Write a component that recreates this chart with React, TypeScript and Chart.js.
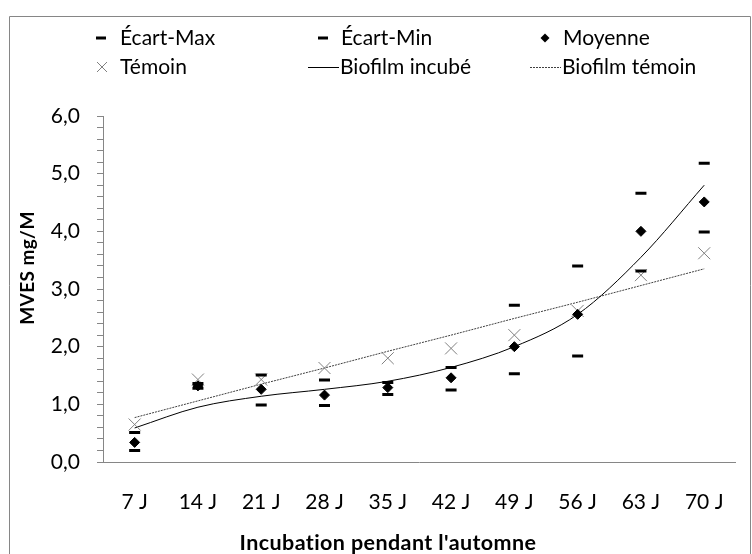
import React, { useEffect, useRef } from 'react';
import { Chart, registerables } from 'chart.js';

Chart.register(...registerables);

// ---- Data ----
const categories = ['7 J', '14 J', '21 J', '28 J', '35 J', '42 J', '49 J', '56 J', '63 J', '70 J'];
const ecartMax = [0.51, 1.36, 1.51, 1.42, 1.38, 1.64, 2.72, 3.40, 4.66, 5.18];
const ecartMin = [0.20, 1.28, 0.99, 0.98, 1.17, 1.25, 1.53, 1.84, 3.31, 3.99];
const moyenne = [0.34, 1.32, 1.26, 1.16, 1.29, 1.46, 2.00, 2.56, 4.00, 4.51];
const temoin = [0.65, 1.43, 1.43, 1.63, 1.80, 1.97, 2.20, 2.62, 3.24, 3.62];
const biofilmIncube = [0.59, 0.95, 1.14, 1.26, 1.40, 1.64, 2.00, 2.56, 3.55, 4.80];
const biofilmTemoin = [0.77, 1.06, 1.35, 1.63, 1.92, 2.20, 2.49, 2.77, 3.06, 3.35];
const yMin = 0;
const yMax = 6;
const yMinorStep = 0.2;

const xTitle = "Incubation pendant l'automne";
const yTitle = 'MVES mg/M';
const legendRow1 = ['Écart-Max', 'Écart-Min', 'Moyenne'];
const legendRow2 = ['Témoin', 'Biofilm incubé', 'Biofilm témoin'];

const FONT = 'Lato, "Noto Sans", sans-serif';
const AXIS_GRAY = '#868686';
const TEXT = '#000000';

const overlayPlugin = {
  id: 'overlay',
  afterDraw(chart: any) {
    const ctx: any = chart.ctx;
    ctx.save();

    // outer frame (chart was cropped at the bottom)
    ctx.strokeStyle = AXIS_GRAY;
    ctx.lineWidth = 1;
    ctx.beginPath();
    ctx.moveTo(9.5, 600);
    ctx.lineTo(9.5, 16.5);
    ctx.lineTo(750.5, 16.5);
    ctx.lineTo(750.5, 600);
    ctx.stroke();

    // legend: 3 columns, each with a 30px symbol area then text
    const r1 = 38;
    const r2 = 67;
    const cols = [86, 308, 530];
    const symW = 30;
    ctx.fillStyle = TEXT;
    ctx.font = `21px ${FONT}`;
    ctx.textBaseline = 'middle';
    ctx.textAlign = 'left';

    // Écart-Max
    let c = cols[0] + symW / 2;
    ctx.fillStyle = '#000';
    ctx.fillRect(c - 5, r1 - 1.5, 10, 3);
    ctx.fillText(legendRow1[0], cols[0] + symW + 4, r1);
    // Écart-Min
    c = cols[1] + symW / 2;
    ctx.fillRect(c - 5, r1 - 1.5, 10, 3);
    ctx.fillText(legendRow1[1], cols[1] + symW + 3, r1);
    // Moyenne
    c = cols[2] + symW / 2;
    ctx.beginPath();
    ctx.moveTo(c - 4.5, r1);
    ctx.lineTo(c, r1 - 4.5);
    ctx.lineTo(c + 4.5, r1);
    ctx.lineTo(c, r1 + 4.5);
    ctx.closePath();
    ctx.fill();
    ctx.fillText(legendRow1[2], cols[2] + symW + 3, r1);

    // Témoin
    c = cols[0] + symW / 2 + 1;
    ctx.strokeStyle = '#808080';
    ctx.lineWidth = 1;
    ctx.beginPath();
    ctx.moveTo(c - 5, r2 - 5);
    ctx.lineTo(c + 5, r2 + 5);
    ctx.moveTo(c + 5, r2 - 5);
    ctx.lineTo(c - 5, r2 + 5);
    ctx.stroke();
    ctx.fillText(legendRow2[0], cols[0] + symW + 4, r2);
    // Biofilm incubé
    ctx.strokeStyle = '#000';
    ctx.beginPath();
    ctx.moveTo(cols[1], r2 + 0.5);
    ctx.lineTo(cols[1] + symW + 1, r2 + 0.5);
    ctx.stroke();
    ctx.fillText(legendRow2[1], cols[1] + symW + 2, r2);
    // Biofilm témoin
    ctx.strokeStyle = '#404040';
    ctx.setLineDash([2, 1]);
    ctx.beginPath();
    ctx.moveTo(cols[2], r2 + 0.5);
    ctx.lineTo(cols[2] + symW + 1, r2 + 0.5);
    ctx.stroke();
    ctx.setLineDash([]);
    ctx.fillText(legendRow2[2], cols[2] + symW + 2, r2);

    // axis titles (non-zero letter spacing disables the Lato "ti" ligature)
    try {
      ctx.letterSpacing = '0.4px';
    } catch (e) {
      /* ignore */
    }
    ctx.font = `bold 21.5px ${FONT}`;
    ctx.textAlign = 'center';
    ctx.fillText(xTitle, 388, 543);

    ctx.save();
    ctx.translate(27.5, 268);
    ctx.rotate(-Math.PI / 2);
    ctx.font = `bold 19px ${FONT}`;
    ctx.fillText(yTitle, 0, 0);
    ctx.restore();

    ctx.restore();
  },
};

export default function App() {
  const canvasRef = useRef<HTMLCanvasElement | null>(null);

  useEffect(() => {
    const canvas = canvasRef.current;
    if (!canvas) return;
    const chart = new Chart(canvas, {
      type: 'line',
      data: {
        labels: categories,
        datasets: [
          {
            label: 'Écart-Max',
            data: ecartMax,
            showLine: false,
            pointStyle: 'line',
            pointRadius: 5.5,
            pointBorderWidth: 3,
            pointBorderColor: '#000',
            pointBackgroundColor: '#000',
            borderColor: '#000',
            order: 1,
          },
          {
            label: 'Écart-Min',
            data: ecartMin,
            showLine: false,
            pointStyle: 'line',
            pointRadius: 5.5,
            pointBorderWidth: 3,
            pointBorderColor: '#000',
            pointBackgroundColor: '#000',
            borderColor: '#000',
            order: 1,
          },
          {
            label: 'Moyenne',
            data: moyenne,
            showLine: false,
            pointStyle: 'rectRot',
            pointRadius: 5,
            pointBorderWidth: 1,
            pointBorderColor: '#000',
            pointBackgroundColor: '#000',
            borderColor: '#000',
            order: 2,
          },
          {
            label: 'Témoin',
            data: temoin,
            showLine: false,
            pointStyle: 'crossRot',
            pointRadius: 8.5,
            pointBorderWidth: 1,
            pointBorderColor: '#808080',
            pointBackgroundColor: '#808080',
            borderColor: '#808080',
            order: 3,
          },
          {
            label: 'Biofilm incubé',
            data: biofilmIncube,
            borderColor: '#000',
            borderWidth: 1,
            pointRadius: 0,
            cubicInterpolationMode: 'monotone',
            fill: false,
            order: 10,
          },
          {
            label: 'Biofilm témoin',
            data: biofilmTemoin,
            borderColor: '#404040',
            borderWidth: 1,
            borderDash: [2, 1],
            pointRadius: 0,
            fill: false,
            order: 10,
          },
        ],
      },
      options: {
        responsive: false,
        animation: false,
        devicePixelRatio: 1,
        events: [],
        layout: { padding: { top: 116, left: 0, right: 3, bottom: 0 } },
        plugins: {
          legend: { display: false },
          tooltip: { enabled: false },
          title: { display: false },
        },
        scales: {
          x: {
            type: 'category',
            offset: true,
            grid: { display: false, drawTicks: false },
            border: { display: true, color: AXIS_GRAY, width: 1 },
            ticks: {
              color: TEXT,
              font: { family: FONT, size: 21 },
              padding: 28,
              maxRotation: 0,
              autoSkip: false,
            },
            afterFit: (scale: any) => {
              scale.height = 92;
            },
          },
          y: {
            type: 'linear',
            min: yMin,
            max: yMax,
            grid: {
              display: true,
              drawOnChartArea: false,
              drawTicks: true,
              tickLength: 6,
              color: AXIS_GRAY,
              lineWidth: 1,
            },
            border: { display: true, color: AXIS_GRAY, width: 1 },
            ticks: {
              stepSize: yMinorStep,
              maxTicksLimit: 100,
              autoSkip: false,
              color: TEXT,
              padding: 17,
              font: { family: FONT, size: 21 },
              callback: (value: any) => {
                const v = Number(value);
                if (Math.abs(v - Math.round(v)) < 1e-6) {
                  return Math.round(v).toFixed(1).replace('.', ',');
                }
                return '';
              },
            },
            afterFit: (scale: any) => {
              scale.width = 103;
            },
          },
        },
      },
      plugins: [overlayPlugin],
    } as any);
    return () => {
      chart.destroy();
    };
  }, []);

  return (
    <div style={{ position: 'fixed', left: 0, top: 0, width: 752, height: 554, background: '#fff' }}>
      <canvas ref={canvasRef} width={752} height={554} style={{ display: 'block', width: 752, height: 554 }} />
    </div>
  );
}
